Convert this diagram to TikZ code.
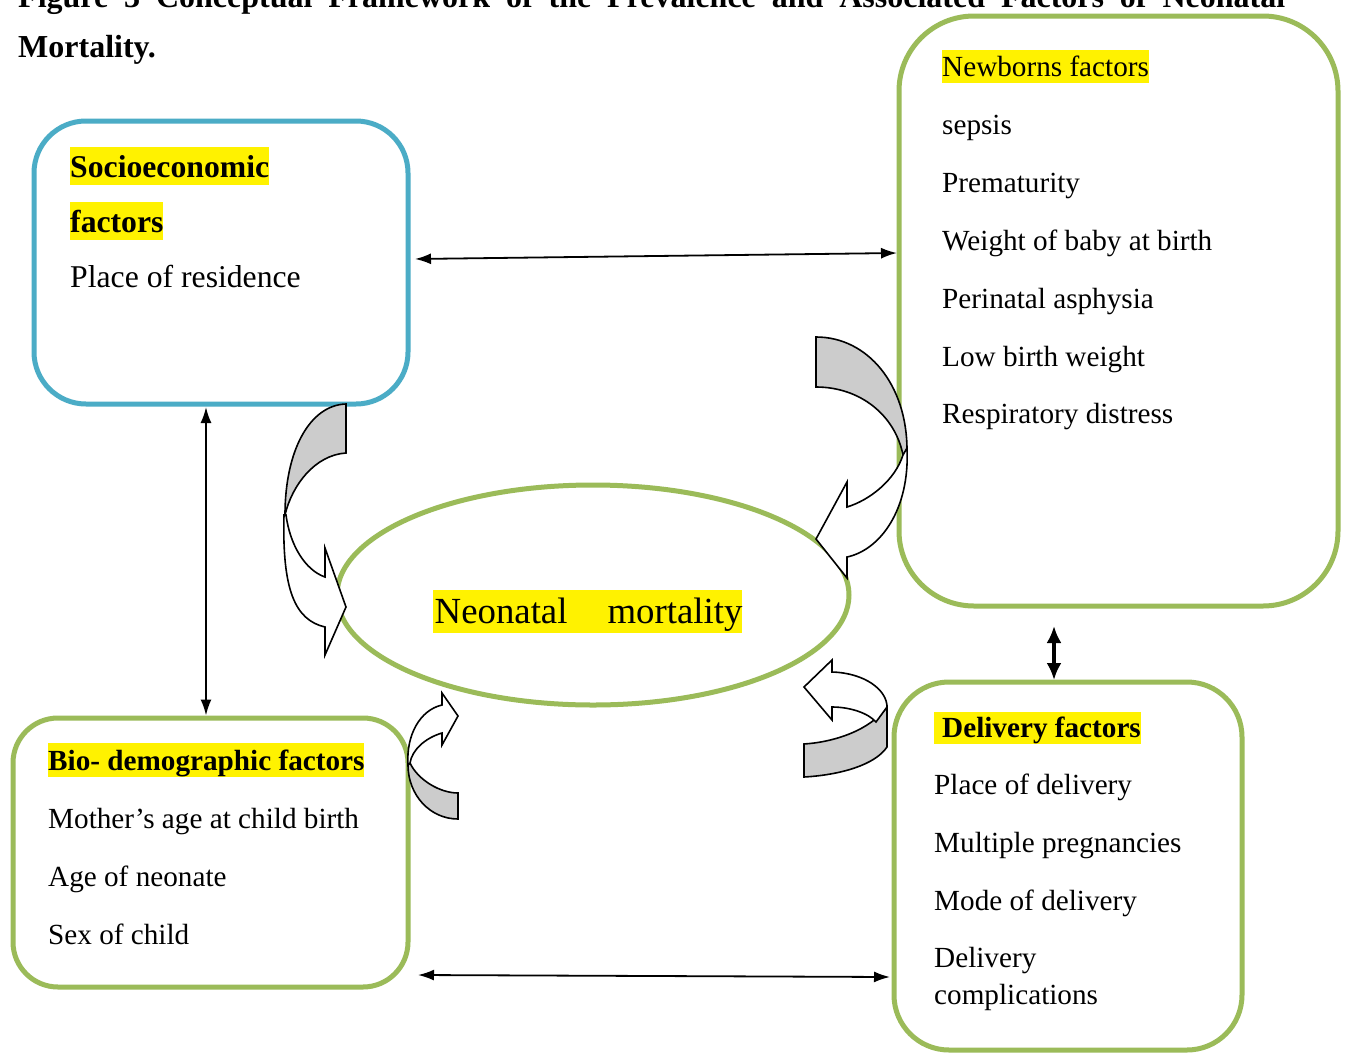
\documentclass[tikz,border=0pt]{standalone}
\usepackage{fontspec}
\setmainfont{Liberation Serif}
\usetikzlibrary{shapes.geometric,arrows.meta}
\definecolor{bluebd}{HTML}{4BACC6}
\definecolor{greenbd}{HTML}{9BBB59}
\definecolor{grayfill}{HTML}{CCCCCC}
\begin{document}
\begin{tikzpicture}[x=1pt,y=-1pt,
  box/.style={draw=greenbd, line width=5pt, inner sep=0pt},
  txtA/.style={anchor=base west, inner sep=0pt, font=\fontsize{29.2pt}{35pt}\selectfont},
  txtS/.style={anchor=base west, inner sep=0pt, font=\fontsize{31.7pt}{38pt}\selectfont},
  ttl/.style={anchor=base west, inner sep=0pt, font=\fontsize{32pt}{38pt}\selectfont\bfseries},
  hl/.style={fill=yellow},
  dbl/.style={{Latex[length=16pt,width=11pt]}-{Latex[length=16pt,width=11pt]}, line width=1.8pt},
  dblthick/.style={{Latex[length=17pt,width=15pt]}-{Latex[length=17pt,width=15pt]}, line width=3.2pt},
  curv/.style={draw=black, line width=1.6pt, line join=miter}]
\clip (0,0) rectangle (1347,1055);
\fill[white] (0,0) rectangle (1347,1055);

% title
\node[ttl] (t1) at (18,7) {\makebox[1267pt][s]{Figure 3 Conceptual Framework of the Prevalence and Associated Factors of Neonatal}};
\node[ttl] (t2) at (18,57) {Mortality.};

% boxes
\node[box, draw=bluebd, rounded corners=52pt, minimum width=374pt, minimum height=283pt] (socio) at (221,262.5) {};
\node[box, rounded corners=75pt, minimum width=439pt, minimum height=590pt] (nb) at (1118.5,311) {};
\node[box, rounded corners=45pt, minimum width=395pt, minimum height=269pt] (bio) at (210.5,852.5) {};
\node[box, rounded corners=55pt, minimum width=348pt, minimum height=368pt] (del) at (1068,866) {};
\node[draw=greenbd, line width=5pt, ellipse, minimum width=512pt, minimum height=220pt, inner sep=0pt] (nm) at (593,595) {};

% texts
\node[txtS, hl, text height=30pt, text depth=8pt] (s1) at (70,177) {\textbf{Socioeconomic}};
\node[txtS, hl, text height=30pt, text depth=8pt] (s2) at (70,232) {\textbf{factors}};
\node[txtS] (s3) at (70,287) {Place of residence};

\node[txtA, hl, text height=26pt, text depth=7pt] (n1) at (942,76) {Newborns factors};
\node[txtA] (n2) at (942,134) {sepsis};
\node[txtA] (n3) at (942,192) {Prematurity};
\node[txtA] (n4) at (942,250) {Weight of baby at birth};
\node[txtA] (n5) at (942,308) {Perinatal asphysia};
\node[txtA] (n6) at (942,366) {Low birth weight};
\node[txtA] (n7) at (942,423) {Respiratory distress};

\node[txtA, hl, text height=27pt, text depth=7pt] (b1) at (48,770) {\textbf{Bio- demographic factors}};
\node[txtA] (b2) at (48,828) {Mother’s age at child birth};
\node[txtA] (b3) at (48,886) {Age of neonate};
\node[txtA] (b4) at (48,944) {Sex of child};

\node[txtA, hl, text height=25pt, text depth=7pt] (d1) at (934,737) {\hspace*{8pt}\textbf{Delivery factors}};
\node[txtA] (d2) at (934,794) {Place of delivery};
\node[txtA] (d3) at (934,852) {Multiple pregnancies};
\node[txtA] (d4) at (934,910) {Mode of delivery};
\node[txtA] (d5) at (934,967) {Delivery};
\node[txtA] (d6) at (934,1004) {complications};

\node[anchor=base west, inner sep=0pt, hl, text height=33pt, text depth=10pt, font=\fontsize{36.8pt}{44pt}\selectfont] (nmt) at (433,623) {\hspace*{1.5pt}Neonatal\hspace{40pt}mortality};

% double arrows
\draw[dbl] ([shift={(4.5,-3.5)}]socio.east) -- ([shift={(0.5,-58)}]nb.west);
\draw[dbl] ([shift={(-15,0.5)}]socio.south) -- ([shift={(-4.5,0)}]bio.north);
\draw[dblthick] ([shift={(-64.5,17.5)}]nb.south) -- ([shift={(-14,0.5)}]del.north);
\draw[dbl] ([shift={(7.5,122.5)}]bio.east) -- ([shift={(-1.5,111)}]del.west);

% curved block arrows
% left big
\filldraw[curv, fill=grayfill] (346,404) .. controls (310,405) and (285,450) .. (285,515) .. controls (292,485) and (315,455) .. (346,453) -- cycle;
\filldraw[curv, fill=white] (286,515) .. controls (290,545) and (305,570) .. (325,577) -- (325,548) -- (346,607) -- (325,655) -- (325,627) .. controls (295,620) and (282,590) .. (284,515) -- cycle;
% right big
\filldraw[curv, fill=grayfill] (816,337) .. controls (868,337) and (907,385) .. (907,450) -- (903,455) .. controls (895,415) and (860,387) .. (816,387) -- cycle;
\filldraw[curv, fill=white] (907,448) .. controls (910,510) and (880,550) .. (847,557) -- (847,578) -- (816,539) -- (847,482) -- (847,507) .. controls (870,500) and (895,480) .. (903,455) -- cycle;
% small bottom left
\filldraw[curv, fill=grayfill] (458,819) .. controls (430,819) and (408,795) .. (408,765) -- (410,763) .. controls (418,780) and (440,793) .. (458,793) -- cycle;
\filldraw[curv, fill=white] (408,765) .. controls (406,735) and (420,710) .. (442,705) -- (442,693) -- (458,716) -- (442,745) -- (442,733) .. controls (425,738) and (412,750) .. (410,763) -- cycle;
% small bottom right
\filldraw[curv, fill=grayfill] (804,744) .. controls (835,742) and (870,730) .. (887,707) -- (887,747) .. controls (875,765) and (840,775) .. (804,777) -- cycle;
\filldraw[curv, fill=white] (887,707) .. controls (887,690) and (865,673) .. (832,672) -- (832,660) -- (804,687) -- (832,720) -- (832,707) .. controls (850,707) and (868,713) .. (876,722) -- cycle;
\end{tikzpicture}
\end{document}
